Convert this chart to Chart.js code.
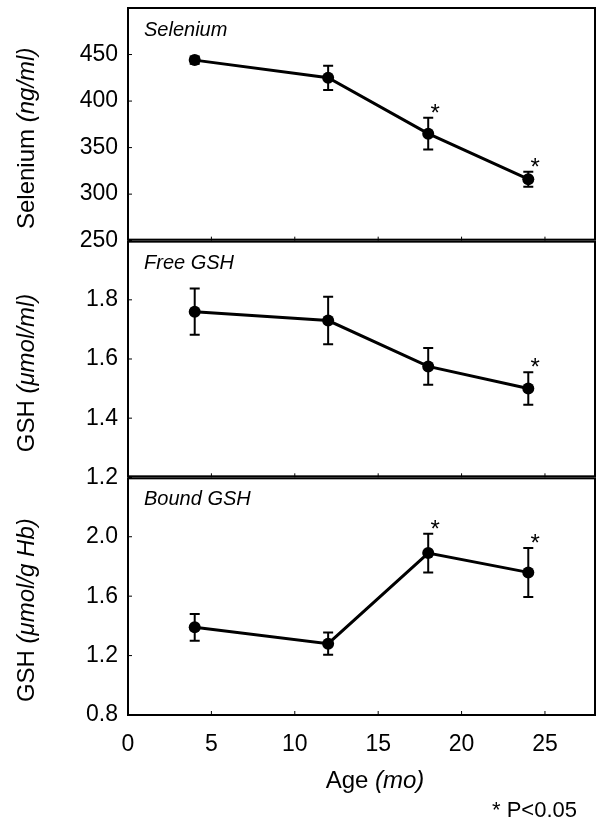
<!DOCTYPE html>
<html>
<head>
<meta charset="utf-8">
<script src="https://cdn.jsdelivr.net/npm/chart.js@4/dist/chart.umd.min.js"></script>
<style>
  html, body { margin: 0; padding: 0; background: #fff; }
  #wrap { width: 604px; height: 826px; position: relative; }
</style>
</head>
<body>
<div id="wrap"><canvas id="ageChart" width="604" height="826"></canvas></div>
<script>
// values
const ages = [4, 12, 18, 24];

const selenium = [444, 425, 365, 316];
const seleniumErr = [4, 13, 17, 8];
const seleniumSig = [false, false, true, true];

const freeGsh = [1.76, 1.73, 1.575, 1.50];
const freeGshErr = [0.078, 0.08, 0.062, 0.055];
const freeGshSig = [false, false, false, true];

const boundGsh = [1.39, 1.28, 1.89, 1.76];
const boundGshErr = [0.09, 0.075, 0.13, 0.165];
const boundGshSig = [false, false, true, true];

const xTicks = [0, 5, 10, 15, 20, 25];

const FONT = '"Liberation Sans", Arial, sans-serif';

// panels, top to bottom
const panels = [
  { id: 'ySel', label: 'Selenium', data: selenium, err: seleniumErr, sig: seleniumSig,
    title: [['Selenium ', false], ['(ng/ml)', true]] },
  { id: 'yFree', label: 'Free GSH', data: freeGsh, err: freeGshErr, sig: freeGshSig,
    title: [['GSH ', false], ['(\u03bcmol/ml)', true]] },
  { id: 'yBound', label: 'Bound GSH', data: boundGsh, err: boundGshErr, sig: boundGshSig,
    title: [['GSH ', false], ['(\u03bcmol/g Hb)', true]] }
];

function toPoints(ys) {
  return ages.map((a, i) => ({ x: a, y: ys[i] }));
}

// draws a line of text made of normal / italic pieces, centred at (cx, y)
function drawMixed(ctx, parts, cx, y, size) {
  let total = 0;
  const widths = parts.map(p => {
    ctx.font = (p[1] ? 'italic ' : '') + size + 'px ' + FONT;
    const w = ctx.measureText(p[0]).width;
    total += w;
    return w;
  });
  let x = cx - total / 2;
  parts.forEach((p, i) => {
    ctx.font = (p[1] ? 'italic ' : '') + size + 'px ' + FONT;
    ctx.fillText(p[0], x, y);
    x += widths[i];
  });
}

const panelPlugin = {
  id: 'panelPlugin',
  afterDatasetsDraw(chart) {
    const ctx = chart.ctx;
    const area = chart.chartArea;
    const xs = chart.scales.x;
    ctx.save();
    ctx.strokeStyle = '#000';
    ctx.fillStyle = '#000';

    panels.forEach((p, k) => {
      const ys = chart.scales[p.id];

      // error bars
      ctx.lineWidth = 2;
      ages.forEach((a, i) => {
        const px = xs.getPixelForValue(a);
        const top = ys.getPixelForValue(p.data[i] + p.err[i]);
        const bot = ys.getPixelForValue(p.data[i] - p.err[i]);
        ctx.beginPath();
        ctx.moveTo(px, top); ctx.lineTo(px, bot);
        ctx.moveTo(px - 5, top); ctx.lineTo(px + 5, top);
        ctx.moveTo(px - 5, bot); ctx.lineTo(px + 5, bot);
        ctx.stroke();
      });

      // significance stars
      ctx.font = '24px ' + FONT;
      ctx.textAlign = 'center';
      ctx.textBaseline = 'alphabetic';
      ages.forEach((a, i) => {
        if (!p.sig[i]) return;
        const px = xs.getPixelForValue(a);
        const top = ys.getPixelForValue(p.data[i] + p.err[i]);
        ctx.fillText('*', px + 7, top + 3);
      });

      // frame
      ctx.lineWidth = 2;
      ctx.strokeRect(area.left, ys.top + (k > 0 ? 1 : 0), area.right - area.left,
        ys.bottom - ys.top - (k > 0 ? 1 : 0) - (k < panels.length - 1 ? 1 : 0));

      // inward ticks
      ctx.lineWidth = 1;
      ctx.beginPath();
      xTicks.forEach(v => {
        const px = xs.getPixelForValue(v);
        ctx.moveTo(px, ys.bottom);
        ctx.lineTo(px, ys.bottom - 4);
      });
      ys.ticks.forEach(t => {
        const py = ys.getPixelForValue(t.value);
        ctx.moveTo(area.left, py);
        ctx.lineTo(area.left + 4, py);
      });
      ctx.stroke();

      // panel label
      ctx.font = 'italic 20px ' + FONT;
      ctx.textAlign = 'left';
      ctx.fillText(p.label, area.left + 16, ys.top + 28);

      // y title (rotated)
      ctx.save();
      ctx.translate(27, (ys.top + ys.bottom) / 2 + 14);
      ctx.rotate(-Math.PI / 2);
      ctx.textAlign = 'left';
      ctx.textBaseline = 'middle';
      drawMixed(ctx, p.title, 0, 0, 24);
      ctx.restore();
    });

    // x title and footnote
    ctx.textAlign = 'left';
    ctx.textBaseline = 'alphabetic';
    drawMixed(ctx, [['Age ', false], ['(mo)', true]], 375, 788, 24);
    ctx.font = '22px ' + FONT;
    ctx.textAlign = 'right';
    ctx.fillText('* P<0.05', chart.width - 27, 817);
    ctx.restore();
  }
};

function yScale(min, max, step, weight, digits) {
  return {
    type: 'linear',
    position: 'left',
    stack: 'panels',
    stackWeight: weight,
    min: min,
    max: max,
    grid: { display: false, drawTicks: false },
    border: { display: false },
    ticks: {
      stepSize: step,
      autoSkip: false,
      padding: 10,
      color: '#000',
      font: { family: FONT, size: 23 },
      callback: (v, i, ticks) => (i === ticks.length - 1 ? '' : v.toFixed(digits))
    },
    afterFit: s => {
      s.width = 128;
      s.paddingTop = 0;
      s.paddingBottom = 0;
    }
  };
}

const datasets = panels.map(p => ({
  label: p.label,
  data: toPoints(p.data),
  yAxisID: p.id,
  borderColor: '#000',
  backgroundColor: '#000',
  borderWidth: 3,
  pointRadius: 6,
  pointBackgroundColor: '#000',
  pointBorderWidth: 0,
  tension: 0
}));

new Chart(document.getElementById('ageChart'), {
  type: 'line',
  data: { datasets: datasets },
  options: {
    responsive: false,
    animation: false,
    layout: { padding: { top: 8, right: 9, bottom: 0, left: 0 } },
    plugins: { legend: { display: false }, tooltip: { enabled: false } },
    scales: {
      x: {
        type: 'linear',
        min: 0,
        max: 28,
        grid: { display: false, drawTicks: false },
        border: { display: false },
        ticks: {
          stepSize: 5,
          autoSkip: false,
          maxRotation: 0,
          padding: 16,
          color: '#000',
          font: { family: FONT, size: 23 },
          callback: v => (v % 5 === 0 ? v : '')
        },
        afterFit: s => {
          s.height = 111;
          s.paddingLeft = 0;
          s.paddingRight = 0;
        }
      },
      // defined bottom-up so the last one ends up on top of the stack
      yBound: yScale(0.8, 2.4, 0.4, 237, 1),
      yFree: yScale(1.2, 2.0, 0.2, 236, 1),
      ySel: yScale(250, 500, 50, 232, 0)
    }
  },
  plugins: [panelPlugin]
});
</script>
</body>
</html>
